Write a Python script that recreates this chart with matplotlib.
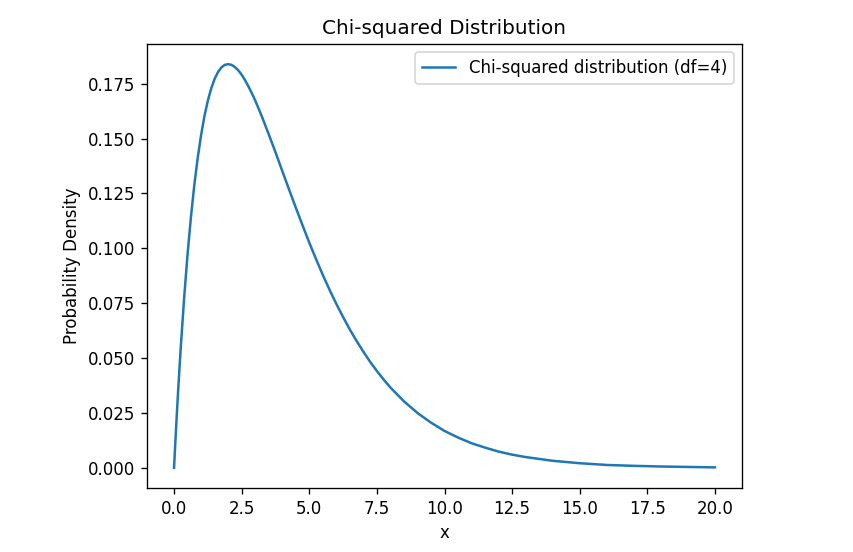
import matplotlib
matplotlib.use("Agg")
import matplotlib.pyplot as plt

# Values
x_vals = [0.0, 0.05, 0.1, 0.15, 0.2, 0.25, 0.375, 0.5, 0.625, 0.75, 0.875,
          1.0, 1.125, 1.25, 1.375, 1.5, 1.625, 1.75, 1.875, 2.0, 2.125, 2.25,
          2.375, 2.5, 2.625, 2.75, 2.875, 3.0, 3.25, 3.5, 3.75, 4.0, 4.25,
          4.5, 4.75, 5.0, 5.25, 5.5, 5.75, 6.0, 6.25, 6.5, 6.75, 7.0, 7.25,
          7.5, 7.75, 8.0, 8.5, 9.0, 9.5, 10.0, 10.5, 11.0, 11.5, 12.0, 12.5,
          13.0, 14.0, 15.0, 16.0, 17.0, 18.0, 19.0, 20.0]
density = [0.0, 0.0122, 0.0238, 0.0348, 0.0452, 0.0552, 0.0777, 0.0974,
           0.1143, 0.1289, 0.1412, 0.1516, 0.1603, 0.1673, 0.1729, 0.1772,
           0.1803, 0.1824, 0.1836, 0.1839, 0.1836, 0.1826, 0.1811, 0.1791,
           0.1766, 0.1738, 0.1707, 0.1674, 0.1600, 0.1520, 0.1438, 0.1353,
           0.1269, 0.1186, 0.1105, 0.1026, 0.0951, 0.0879, 0.0811, 0.0747,
           0.0687, 0.0630, 0.0578, 0.0529, 0.0483, 0.0441, 0.0402, 0.0366,
           0.0303, 0.0250, 0.0206, 0.0168, 0.0138, 0.0112, 0.0092, 0.0074,
           0.0060, 0.0049, 0.0032, 0.0021, 0.0013, 0.0009, 0.0006, 0.0004,
           0.0002]

W, H, DPI = 853, 552, 120
fig = plt.figure(figsize=(W / DPI, H / DPI), dpi=DPI)
ax = fig.add_axes([147 / W, (H - 488) / H, 595 / W, 444 / H])
ax.plot(x_vals, density, color="#1f77b4", lw=1.5, label="Chi-squared distribution (df=4)")
ax.set_title("Chi-squared Distribution")
ax.set_xlabel("x")
ax.set_ylabel("Probability Density")
ax.legend(loc="upper right")
fig.savefig("out.png", dpi=DPI)
